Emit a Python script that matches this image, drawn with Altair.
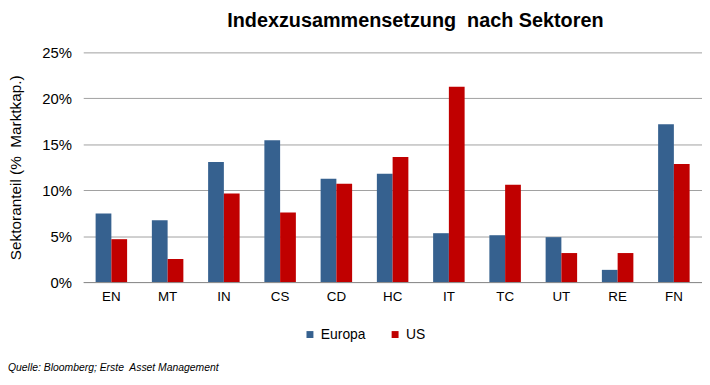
import altair as alt
import pandas as pd

sectors = ["EN", "MT", "IN", "CS", "CD", "HC", "IT", "TC", "UT", "RE", "FN"]
europa = [7.47, 6.72, 13.07, 15.45, 11.24, 11.78, 5.32, 5.10, 4.89, 1.33, 17.17]
us = [4.67, 2.51, 9.63, 7.58, 10.70, 13.61, 21.26, 10.60, 3.16, 3.16, 12.86]
series = ["Europa", "US"]
colors = ["#36618F", "#C00000"]
y_ticks = [0, 0.05, 0.10, 0.15, 0.20, 0.25]
title_text = "Indexzusammensetzung\u00a0 nach Sektoren"
y_title = "Sektoranteil (%\u00a0 Marktkap.)"
source_text = "Quelle: Bloomberg; Erste\u00a0 Asset Management"

rows = []
for i, s in enumerate(sectors):
    rows.append({"Sektor": s, "Region": "Europa", "Wert": europa[i] / 100})
    rows.append({"Sektor": s, "Region": "US", "Wert": us[i] / 100})
df = pd.DataFrame(rows)

font = "Liberation Sans"

bars = alt.Chart(df).mark_bar().encode(
    x=alt.X("Sektor:N", sort=sectors, title=None,
            scale=alt.Scale(paddingInner=0.44, paddingOuter=0.22),
            axis=alt.Axis(labelAngle=0, labelFontSize=13.5, labelPadding=8,
                          labelColor="#000000", ticks=False,
                          domainColor="#8c8c8c", domainWidth=1, labelFont=font)),
    xOffset=alt.XOffset("Region:N", sort=series),
    y=alt.Y("Wert:Q", title=y_title,
            scale=alt.Scale(domain=[0, 0.25], nice=False),
            axis=alt.Axis(format=".0%", values=y_ticks, labelFontSize=15,
                          labelPadding=12, labelColor="#000000", ticks=False,
                          domain=False, gridColor="#a0a0a0", gridWidth=1,
                          titleFontSize=15.5, titleFontWeight="normal",
                          titleColor="#000000", titleFont=font, labelFont=font,
                          titleX=-68, titleY=116, titleBaseline="middle",
                          titleAlign="center")),
    color=alt.Color("Region:N", sort=series,
                    scale=alt.Scale(domain=series, range=colors),
                    legend=alt.Legend(title=None, orient="none", legendX=222,
                                      legendY=278, direction="horizontal",
                                      symbolType="square", symbolSize=49,
                                      symbolStrokeWidth=0, labelFontSize=14,
                                      labelFont=font, labelColor="#000000",
                                      columnPadding=22, padding=0,
                                      labelOffset=4)),
)

src = alt.Chart(pd.DataFrame({"t": [source_text]})).mark_text(
    align="left", baseline="alphabetic", fontSize=10.5, fontStyle="italic",
    font=font, color="#000000"
).encode(text="t:N", x=alt.value(-76), y=alt.value(322))

chart = alt.layer(bars, src).properties(
    width=625, height=232,
    title=alt.TitleParams(title_text, fontSize=20, fontWeight="bold", font=font,
                          color="#000000", anchor="middle", dx=23, offset=15),
    autosize=alt.AutoSizeParams(type="none"),
    padding={"left": 76, "top": 43, "right": 0, "bottom": 90},
).configure_view(stroke=None)

chart.save("out.html", embed_options={"renderer": "svg", "actions": False})
